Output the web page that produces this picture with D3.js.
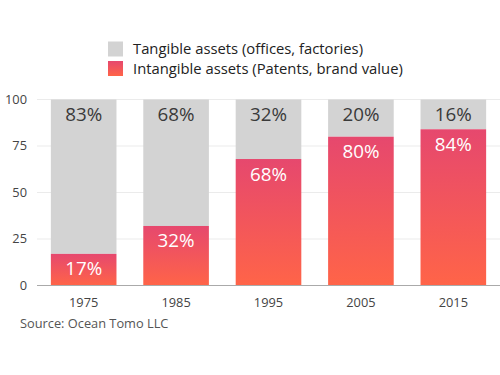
<!DOCTYPE html>
<html>
<head>
<meta charset="utf-8">
<script src="https://cdn.jsdelivr.net/npm/d3@7"></script>
<style>
  body { margin: 0; background: #fff; }
  text { font-family: "Open Sans", "Noto Sans", sans-serif; }
</style>
</head>
<body>
<div id="chart"></div>
<script>
const years = ["1975", "1985", "1995", "2005", "2015"];
const tangible = [83, 68, 32, 20, 16];
const intangible = [17, 32, 68, 80, 84];
const yTicks = [0, 25, 50, 75, 100];
const legendLabels = ["Tangible assets (offices, factories)", "Intangible assets (Patents, brand value)"];

const width = 500, height = 375;
const margin = {top: 99.5, right: 0, bottom: 90, left: 37};

const svg = d3.select("#chart").append("svg")
  .attr("width", width)
  .attr("height", height);

const defs = svg.append("defs");
const grad = defs.append("linearGradient")
  .attr("id", "redgrad")
  .attr("x1", 0).attr("y1", 0).attr("x2", 0).attr("y2", 1);
grad.append("stop").attr("offset", "0%").attr("stop-color", "#e6486e");
grad.append("stop").attr("offset", "100%").attr("stop-color", "#ff6448");

const x = d3.scaleBand()
  .domain(years)
  .range([margin.left, width - margin.right])
  .paddingInner(0.29)
  .paddingOuter(0.15);

const y = d3.scaleLinear()
  .domain([0, 100])
  .range([285.5, margin.top]);

// gridlines
svg.append("g")
  .selectAll("line")
  .data(yTicks.filter(d => d > 0))
  .join("line")
  .attr("x1", margin.left).attr("x2", width)
  .attr("y1", d => y(d)).attr("y2", d => y(d))
  .attr("stroke", "#ebebeb");

// y labels
svg.append("g")
  .selectAll("text")
  .data(yTicks)
  .join("text")
  .attr("x", 27)
  .attr("y", d => y(d))
  .attr("dy", "0.35em")
  .attr("text-anchor", "end")
  .attr("font-size", 12.8)
  .attr("fill", "#444")
  .text(d => d);

// tangible bars (full height gray)
svg.append("g")
  .selectAll("rect")
  .data(years)
  .join("rect")
  .attr("x", d => x(d))
  .attr("width", x.bandwidth())
  .attr("y", (d, i) => y(intangible[i] + tangible[i]))
  .attr("height", (d, i) => y(intangible[i]) - y(intangible[i] + tangible[i]))
  .attr("fill", "#d3d3d3");

// intangible bars
svg.append("g")
  .selectAll("rect")
  .data(years)
  .join("rect")
  .attr("x", d => x(d))
  .attr("width", x.bandwidth())
  .attr("y", (d, i) => y(intangible[i]))
  .attr("height", (d, i) => y(0) - y(intangible[i]))
  .attr("fill", "url(#redgrad)");

// x axis line
svg.append("line")
  .attr("x1", margin.left).attr("x2", width)
  .attr("y1", y(0)).attr("y2", y(0))
  .attr("stroke", "#aaa");

// tangible labels
svg.append("g")
  .selectAll("text")
  .data(years)
  .join("text")
  .attr("x", d => x(d) + x.bandwidth() / 2)
  .attr("y", (d, i) => y(intangible[i] + tangible[i]) + 21.5)
  .attr("text-anchor", "middle")
  .attr("font-size", 18.8)
  .attr("fill", "#3a3a3a")
  .text((d, i) => tangible[i] + "%");

// intangible labels
svg.append("g")
  .selectAll("text")
  .data(years)
  .join("text")
  .attr("x", d => x(d) + x.bandwidth() / 2)
  .attr("y", (d, i) => y(intangible[i]) + 21.5)
  .attr("text-anchor", "middle")
  .attr("font-size", 18.8)
  .attr("fill", "#fff")
  .text((d, i) => intangible[i] + "%");

// x labels
svg.append("g")
  .selectAll("text")
  .data(years)
  .join("text")
  .attr("x", d => x(d) + x.bandwidth() / 2)
  .attr("y", 307)
  .attr("text-anchor", "middle")
  .attr("font-size", 12.8)
  .attr("fill", "#444")
  .text(d => d);

// legend
const legend = svg.append("g");
const legendFills = ["#d3d3d3", "url(#redgrad)"];
legendLabels.forEach((lab, i) => {
  legend.append("rect")
    .attr("x", 108).attr("y", 41.5 + i * 19.5)
    .attr("width", 15).attr("height", 15)
    .attr("fill", legendFills[i]);
  legend.append("text")
    .attr("x", 133).attr("y", 49 + i * 19.5)
    .attr("dy", "0.35em")
    .attr("font-size", 14.8)
    .attr("fill", "#222")
    .text(lab);
});

// source
svg.append("text")
  .attr("x", 20).attr("y", 328)
  .attr("font-size", 12.8)
  .attr("fill", "#555")
  .text("Source: Ocean Tomo LLC");
</script>
</body>
</html>
